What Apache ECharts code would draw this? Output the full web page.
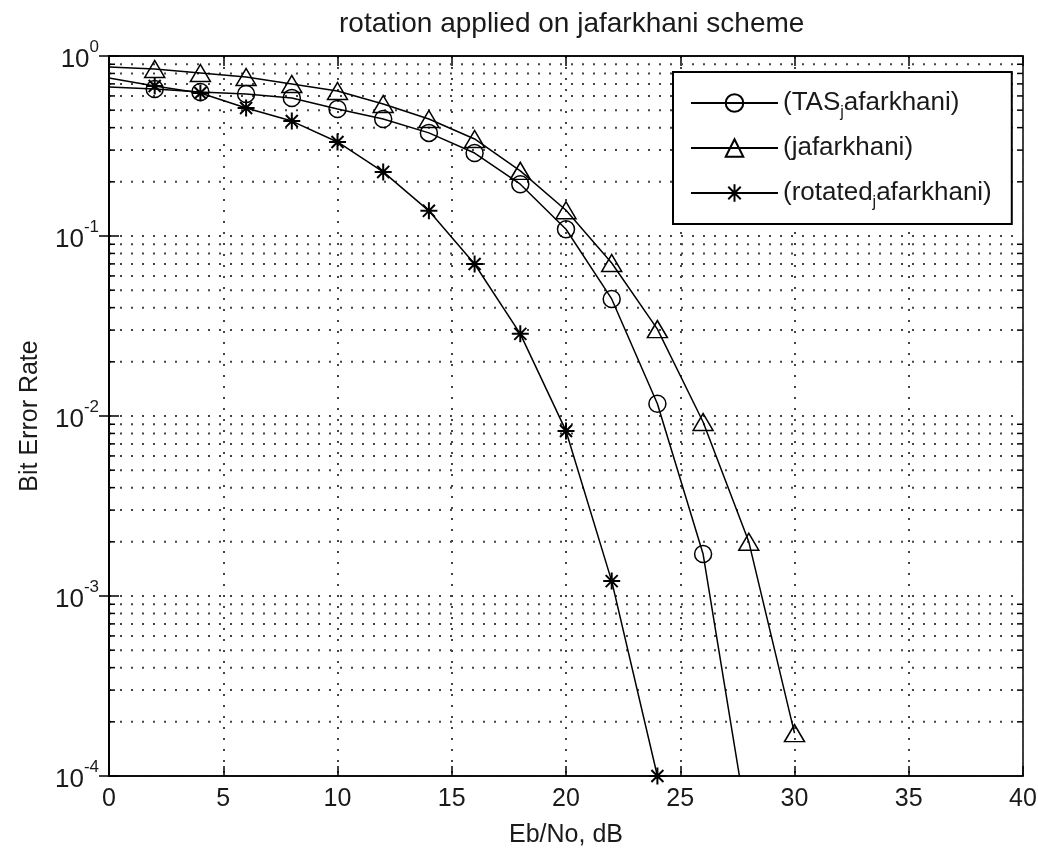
<!DOCTYPE html>
<html>
<head>
<meta charset="utf-8">
<title>rotation applied on jafarkhani scheme</title>
<script src="https://cdn.jsdelivr.net/npm/echarts@6/dist/echarts.min.js"></script>
<style>
  html, body { margin: 0; padding: 0; background: #fff; }
  #chart { width: 1038px; height: 849px; }
</style>
</head>
<body>
<div id="chart"></div>
<script>
// Eb/No in dB (first point at 0 dB carries no marker in the original)
const snr = [0, 2, 4, 6, 8, 10, 12, 14, 16, 18, 20, 22, 24, 26, 28, 30]

// bit error rates
const berTAS = [0.673, 0.656, 0.631, 0.615, 0.585, 0.508, 0.447, 0.374, 0.289, 0.194, 0.109, 0.0447, 0.0117, 0.00171, 0.000048]
const berJafarkhani = [0.869, 0.847, 0.805, 0.764, 0.699, 0.639, 0.541, 0.447, 0.346, 0.230, 0.139, 0.0708, 0.0304, 0.00926, 0.00200, 0.000173]
const berRotated = [0.755, 0.681, 0.623, 0.514, 0.435, 0.333, 0.227, 0.138, 0.0699, 0.0286, 0.00826, 0.00121, 0.0001]

const seriesNames = ['TAS_jafarkhani', 'jafarkhani', 'rotated_jafarkhani']
const legendLabels = {
  TAS_jafarkhani: '(TAS{sub|j}afarkhani)',
  jafarkhani: '(jafarkhani)',
  rotated_jafarkhani: '(rotated{sub|j}afarkhani)'
}

// minor log gridlines: 2..9 inside each decade
const minorMultipliers = [2, 3, 4, 5, 6, 7, 8, 9]
const decades = [1e-4, 1e-3, 1e-2, 1e-1]

const FONT = '"Liberation Sans", Arial, sans-serif'
const INK = '#1a1a1a'
const dotted = { color: '#444', width: 2, type: [2, 9] }

const minorTicks = []
decades.forEach(d => minorMultipliers.forEach(m => minorTicks.push(m * d)))

const toPoints = (vals) => vals.map((v, i) => i === 0 ? { value: [snr[i], v], symbol: 'none' } : [snr[i], v])

const starPath = 'path://M0,-8L0,8M-8,0L8,0M-5.66,-5.66L5.66,5.66M-5.66,5.66L5.66,-5.66'

const lineSeries = (name, vals, symbol, size, bw) => ({
  name,
  type: 'line',
  data: toPoints(vals),
  symbol,
  symbolSize: size,
  showAllSymbol: true,
  clip: true,
  z: 3,
  lineStyle: { color: '#000', width: 1.5 },
  itemStyle: { color: 'rgba(0,0,0,0)', borderColor: '#000', borderWidth: bw },
  emphasis: { disabled: true }
})

const chart = echarts.init(document.getElementById('chart'))

const option = {
  animation: false,
  backgroundColor: '#fff',
  title: {
    text: 'rotation applied on jafarkhani scheme',
    left: 334,
    top: 5,
    textStyle: { fontSize: 28, fontWeight: 'normal', color: INK, fontFamily: FONT }
  },
  grid: {
    left: 109,
    top: 56,
    right: 15,
    bottom: 73,
    outerBoundsMode: 'none',
    show: true,
    borderColor: '#000',
    borderWidth: 1.5,
    backgroundColor: '#fff'
  },
  legend: {
    data: seriesNames,
    formatter: name => legendLabels[name],
    orient: 'vertical',
    left: 673,
    top: 72,
    padding: [13, 20, 13, 17],
    itemGap: 9,
    itemWidth: 87,
    itemHeight: 22,
    backgroundColor: '#fff',
    borderColor: '#000',
    borderWidth: 2,
    borderRadius: 0,
    selectedMode: false,
    textStyle: {
      fontSize: 26,
      color: INK,
      fontFamily: FONT,
      lineHeight: 36,
      rich: {
        sub: { fontSize: 16, lineHeight: 12, verticalAlign: 'bottom', color: INK, fontFamily: FONT }
      }
    }
  },
  xAxis: [
    {
      type: 'value',
      min: 0,
      max: 40,
      interval: 5,
      position: 'bottom',
      name: 'Eb/No, dB',
      nameLocation: 'middle',
      nameGap: 47,
      nameTextStyle: { fontSize: 25, color: INK, fontFamily: FONT },
      axisLine: { show: true, lineStyle: { color: '#000', width: 1.5 } },
      axisTick: { show: true, inside: true, length: 10, lineStyle: { color: '#000', width: 1.5 } },
      axisLabel: { fontSize: 25, color: INK, margin: 11, fontFamily: FONT },
      splitLine: { show: true, lineStyle: dotted }
    },
    {
      type: 'value',
      min: 0,
      max: 40,
      interval: 5,
      position: 'top',
      axisLine: { show: true, lineStyle: { color: '#000', width: 1.5 } },
      axisTick: { show: true, inside: true, length: 10, lineStyle: { color: '#000', width: 1.5 } },
      axisLabel: { show: false },
      splitLine: { show: false }
    }
  ],
  yAxis: [
    {
      type: 'log',
      logBase: 10,
      min: 1e-4,
      max: 1,
      position: 'left',
      name: 'Bit Error Rate',
      nameLocation: 'middle',
      nameGap: 66,
      nameTextStyle: { fontSize: 25, color: INK, fontFamily: FONT },
      axisLine: { show: true, lineStyle: { color: '#000', width: 1.5 } },
      axisTick: { show: true, inside: true, length: 10, lineStyle: { color: '#000', width: 1.5 } },
      axisLabel: {
        margin: 10,
        formatter: v => '{b|10}{s|' + Math.round(Math.log10(v)) + '}',
        rich: {
          b: { fontSize: 26, lineHeight: 34, verticalAlign: 'bottom', color: INK, fontFamily: FONT },
          s: { fontSize: 17, lineHeight: 19, verticalAlign: 'top', color: INK, fontFamily: FONT }
        }
      },
      splitLine: { show: true, lineStyle: dotted }
    },
    {
      type: 'log',
      logBase: 10,
      min: 1e-4,
      max: 1,
      position: 'right',
      axisLine: { show: true, lineStyle: { color: '#000', width: 1.5 } },
      axisTick: { show: true, inside: true, length: 10, lineStyle: { color: '#000', width: 1.5 } },
      axisLabel: { show: false },
      splitLine: { show: false }
    }
  ],
  series: [
    {
      type: 'custom',
      silent: true,
      z: 1,
      data: minorTicks.map(v => [0, v]),
      encode: { x: 0, y: 1 },
      renderItem: (params, api) => {
        const v = api.value(1)
        const a = api.coord([0, v])
        const b = api.coord([40, v])
        return {
          type: 'group',
          children: [
            { type: 'line', shape: { x1: a[0], y1: a[1], x2: b[0], y2: b[1] }, style: { stroke: '#444', lineWidth: 2, lineDash: [2, 9] } },
            { type: 'line', shape: { x1: a[0], y1: a[1], x2: a[0] + 6, y2: a[1] }, style: { stroke: '#000', lineWidth: 1.5 } },
            { type: 'line', shape: { x1: b[0] - 6, y1: b[1], x2: b[0], y2: b[1] }, style: { stroke: '#000', lineWidth: 1.5 } }
          ]
        }
      }
    },
    lineSeries('TAS_jafarkhani', berTAS, 'circle', 17, 1.5),
    lineSeries('jafarkhani', berJafarkhani, 'triangle', [20, 17], 1.5),
    lineSeries('rotated_jafarkhani', berRotated, starPath, 17, 2)
  ]
}

chart.setOption(option)
</script>
</body>
</html>
